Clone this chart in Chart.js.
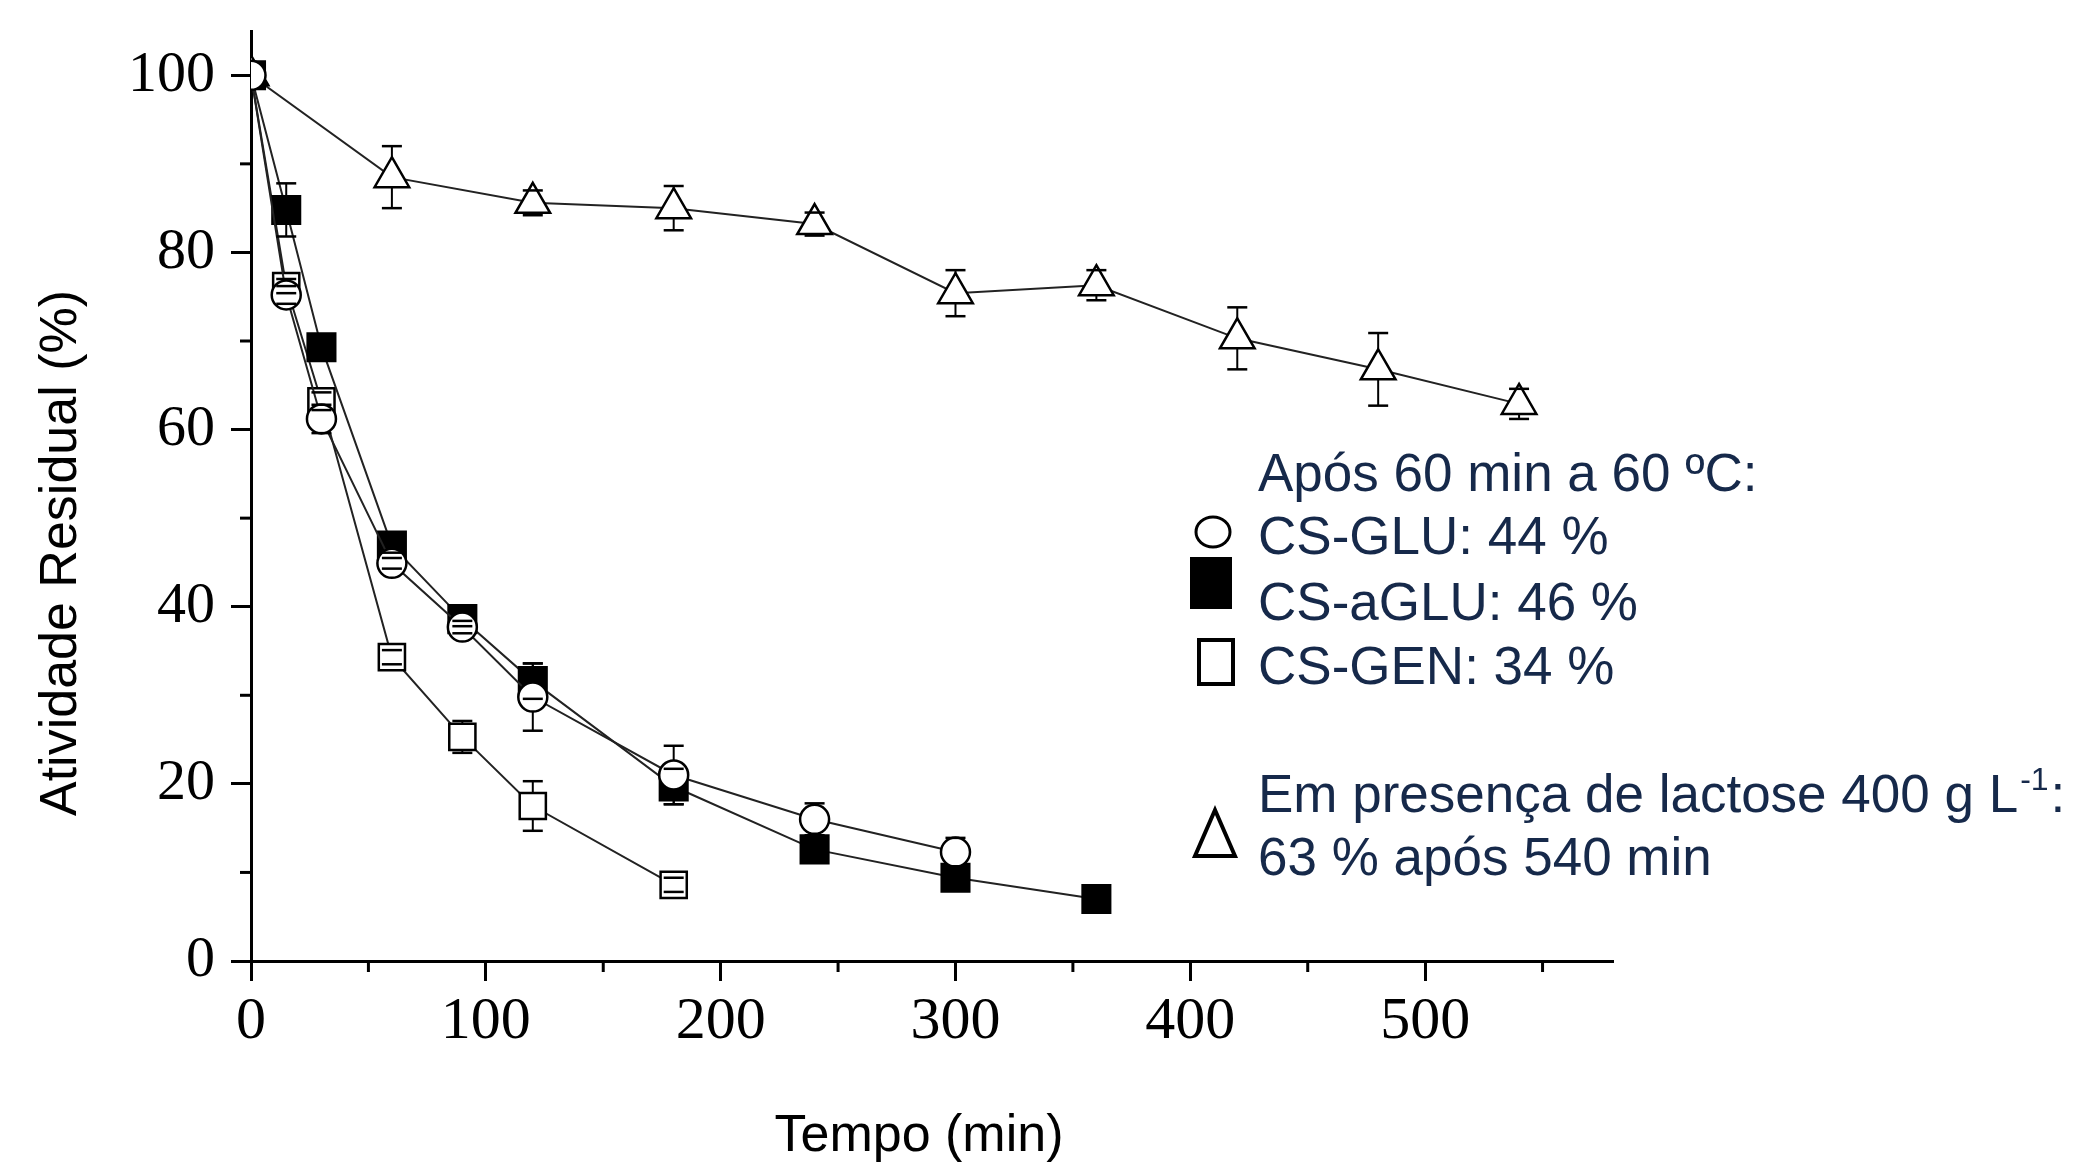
<!DOCTYPE html>
<html>
<head>
<meta charset="utf-8">
<script src="https://cdn.jsdelivr.net/npm/chart.js@4.4.1/dist/chart.umd.min.js"></script>
<style>
  html, body { margin: 0; padding: 0; background: #fff; }
  #wrap { width: 2073px; height: 1172px; position: relative; }
</style>
</head>
<body>
<div id="wrap"><canvas id="stability"></canvas></div>
<script>
// Tempo (min) and residual activity (%) with error (+/-)
var timeGLU = [0, 15, 30, 60, 90, 120, 180, 240, 300];
var glu     = [100, 75.2, 61.2, 44.9, 37.7, 29.8, 21.0, 16.0, 12.3];
var gluErr  = [0, 1.0, 1.6, 0.6, 0.7, 3.8, 3.3, 1.8, 1.6];

var timeAGLU = [0, 15, 30, 60, 90, 120, 180, 240, 300, 360];
var aglu     = [100, 84.8, 69.3, 46.9, 38.6, 31.6, 19.7, 12.6, 9.4, 7.0];
var agluErr  = [0, 3.0, 0.8, 0.8, 0.8, 2.0, 2.0, 0.6, 0.6, 0.5];

var timeGEN = [0, 15, 30, 60, 90, 120, 180];
var gen     = [100, 76.2, 63.2, 34.3, 25.3, 17.5, 8.6];
var genErr  = [0, 0.8, 1.0, 0.8, 1.8, 2.8, 0.8];

var timeLac = [0, 60, 120, 180, 240, 300, 360, 420, 480, 540];
var lactose = [100, 88.5, 85.6, 85.0, 83.2, 75.4, 76.3, 70.3, 66.8, 62.9];
var lacErr  = [0, 3.5, 1.4, 2.5, 1.3, 2.6, 1.7, 3.5, 4.1, 1.7];

var xTicks = [0, 100, 200, 300, 400, 500];
var xMinor = [50, 150, 250, 350, 450, 550];
var yTicks = [0, 20, 40, 60, 80, 100];
var yMinor = [10, 30, 50, 70, 90];

var xTitle = 'Tempo (min)';
var yTitle = 'Atividade Residual (%)';
var noteHead = 'Após 60 min a 60 ºC:';
var noteItems = ['CS-GLU: 44 %', 'CS-aGLU: 46 %', 'CS-GEN: 34 %'];
var noteLac1 = 'Em presença de lactose 400 g L';
var noteLac2 = '63 % após 540 min';

var errSets = [gluErr, agluErr, genErr, lacErr];

function pts(xs, ys) {
	return xs.map(function(x, i) { return { x: x, y: ys[i] }; });
}

var navy = '#16294a';
var noteFont = '53px "Liberation Sans", Arial, sans-serif';

var extras = {
	id: 'extras',
	beforeDatasetsDraw: function(chart) {
		// error bar stems, hidden under the markers
		var ctx = chart.ctx, xs = chart.scales.x, ys = chart.scales.y;
		ctx.save();
		ctx.strokeStyle = '#000';
		ctx.lineWidth = 2;
		chart.data.datasets.forEach(function(ds, di) {
			var err = errSets[di];
			ds.data.forEach(function(p, i) {
				if (!err[i]) return;
				var px = xs.getPixelForValue(p.x);
				ctx.beginPath();
				ctx.moveTo(px, ys.getPixelForValue(p.y + err[i]));
				ctx.lineTo(px, ys.getPixelForValue(p.y - err[i]));
				ctx.stroke();
			});
		});
		ctx.restore();
	},
	afterDatasetsDraw: function(chart) {
		// error bar caps
		var ctx = chart.ctx, xs = chart.scales.x, ys = chart.scales.y;
		ctx.save();
		ctx.strokeStyle = '#000';
		ctx.lineWidth = 2.5;
		chart.data.datasets.forEach(function(ds, di) {
			var err = errSets[di];
			ds.data.forEach(function(p, i) {
				if (!err[i]) return;
				var px = xs.getPixelForValue(p.x);
				[p.y + err[i], p.y - err[i]].forEach(function(v) {
					var py = ys.getPixelForValue(v);
					ctx.beginPath();
					ctx.moveTo(px - 10, py);
					ctx.lineTo(px + 10, py);
					ctx.stroke();
				});
			});
		});
		ctx.restore();
	},
	afterDraw: function(chart) {
		var ctx = chart.ctx, xs = chart.scales.x, ys = chart.scales.y;
		ctx.save();

		// minor ticks
		ctx.strokeStyle = '#000';
		ctx.lineWidth = 3;
		xMinor.forEach(function(v) {
			var px = xs.getPixelForValue(v);
			ctx.beginPath(); ctx.moveTo(px, xs.top); ctx.lineTo(px, xs.top + 11); ctx.stroke();
		});
		yMinor.forEach(function(v) {
			var py = ys.getPixelForValue(v);
			ctx.beginPath(); ctx.moveTo(ys.right, py); ctx.lineTo(ys.right - 11, py); ctx.stroke();
		});

		// axis titles
		ctx.fillStyle = '#000';
		ctx.font = '52px "Liberation Sans", Arial, sans-serif';
		ctx.textAlign = 'center';
		ctx.textBaseline = 'middle';
		ctx.fillText(xTitle, 919, 1137);
		ctx.save();
		ctx.translate(62, 553);
		ctx.rotate(-Math.PI / 2);
		ctx.fillText(yTitle, 0, 0);
		ctx.restore();

		// annotation text
		ctx.fillStyle = navy;
		ctx.font = noteFont;
		ctx.textAlign = 'left';
		ctx.textBaseline = 'alphabetic';
		var tx = 1258;
		ctx.fillText(noteHead, tx, 491);
		ctx.fillText(noteItems[0], tx, 554);
		ctx.fillText(noteItems[1], tx, 620);
		ctx.fillText(noteItems[2], tx, 684);
		ctx.fillText(noteLac1, tx, 812);
		var w = ctx.measureText(noteLac1).width;
		ctx.font = '32px "Liberation Sans", Arial, sans-serif';
		ctx.fillText('-1', tx + w + 2, 790);
		var w2 = ctx.measureText('-1').width;
		ctx.font = noteFont;
		ctx.fillText(':', tx + w + w2 + 4, 812);
		ctx.fillText(noteLac2, tx, 875);

		// annotation markers
		ctx.strokeStyle = '#000';
		ctx.fillStyle = '#fff';
		ctx.lineWidth = 3;
		ctx.beginPath();
		ctx.ellipse(1213, 532, 17, 15, 0, 0, Math.PI * 2);
		ctx.fill(); ctx.stroke();
		ctx.fillStyle = '#000';
		ctx.fillRect(1190, 557, 42, 52);
		ctx.lineWidth = 4;
		ctx.strokeRect(1199, 640, 34, 44);
		ctx.beginPath();
		ctx.moveTo(1215, 810);
		ctx.lineTo(1235, 856);
		ctx.lineTo(1195, 856);
		ctx.closePath();
		ctx.stroke();

		ctx.restore();
	}
};

function lineSet(label, data, style, fill, radius) {
	return {
		label: label,
		data: data,
		borderColor: '#222',
		borderWidth: 2,
		pointStyle: style,
		pointRadius: radius,
		pointHoverRadius: radius,
		pointBackgroundColor: fill,
		pointBorderColor: '#000',
		pointBorderWidth: 2.5,
		tension: 0,
		fill: false
	};
}

var ctx = document.getElementById('stability').getContext('2d');
var stabilityChart = new Chart(ctx, {
	type: 'line',
	data: {
		datasets: [
			lineSet('CS-GLU', pts(timeGLU, glu), 'circle', '#fff', 14.5),
			lineSet('CS-aGLU', pts(timeAGLU, aglu), 'rect', '#000', 19.5),
			lineSet('CS-GEN', pts(timeGEN, gen), 'rect', '#fff', 18.5),
			lineSet('Lactose 400 g/L', pts(timeLac, lactose), 'triangle', '#fff', 20)
		]
	},
	options: {
		responsive: true,
		maintainAspectRatio: false,
		animation: false,
		events: [],
		layout: { padding: { top: 31, right: 460, bottom: 0, left: 0 } },
		plugins: {
			legend: { display: false },
			tooltip: { enabled: false }
		},
		scales: {
			x: {
				type: 'linear',
				min: 0,
				max: 580,
				afterBuildTicks: function(scale) {
					scale.ticks = xTicks.map(function(v) { return { value: v }; });
				},
				afterFit: function(scale) {
					scale.height = 211;
					scale.paddingLeft = 0;
					scale.paddingRight = 0;
				},
				border: { display: true, color: '#000', width: 3 },
				grid: { display: true, drawOnChartArea: false, drawTicks: true, tickLength: 20, tickWidth: 3, tickColor: '#000' },
				ticks: {
					color: '#000',
					padding: 5,
					maxRotation: 0,
					font: { family: '"Liberation Serif", "Times New Roman", serif', size: 60 }
				}
			},
			y: {
				type: 'linear',
				min: 0,
				max: 105,
				afterBuildTicks: function(scale) {
					scale.ticks = yTicks.map(function(v) { return { value: v }; });
				},
				afterFit: function(scale) {
					scale.width = 251;
					scale.paddingTop = 0;
					scale.paddingBottom = 0;
				},
				border: { display: true, color: '#000', width: 3 },
				grid: { display: true, drawOnChartArea: false, drawTicks: true, tickLength: 20, tickWidth: 3, tickColor: '#000' },
				ticks: {
					color: '#000',
					padding: 16,
					font: { family: '"Liberation Serif", "Times New Roman", serif', size: 58 }
				}
			}
		}
	},
	plugins: [extras]
});
</script>
</body>
</html>
